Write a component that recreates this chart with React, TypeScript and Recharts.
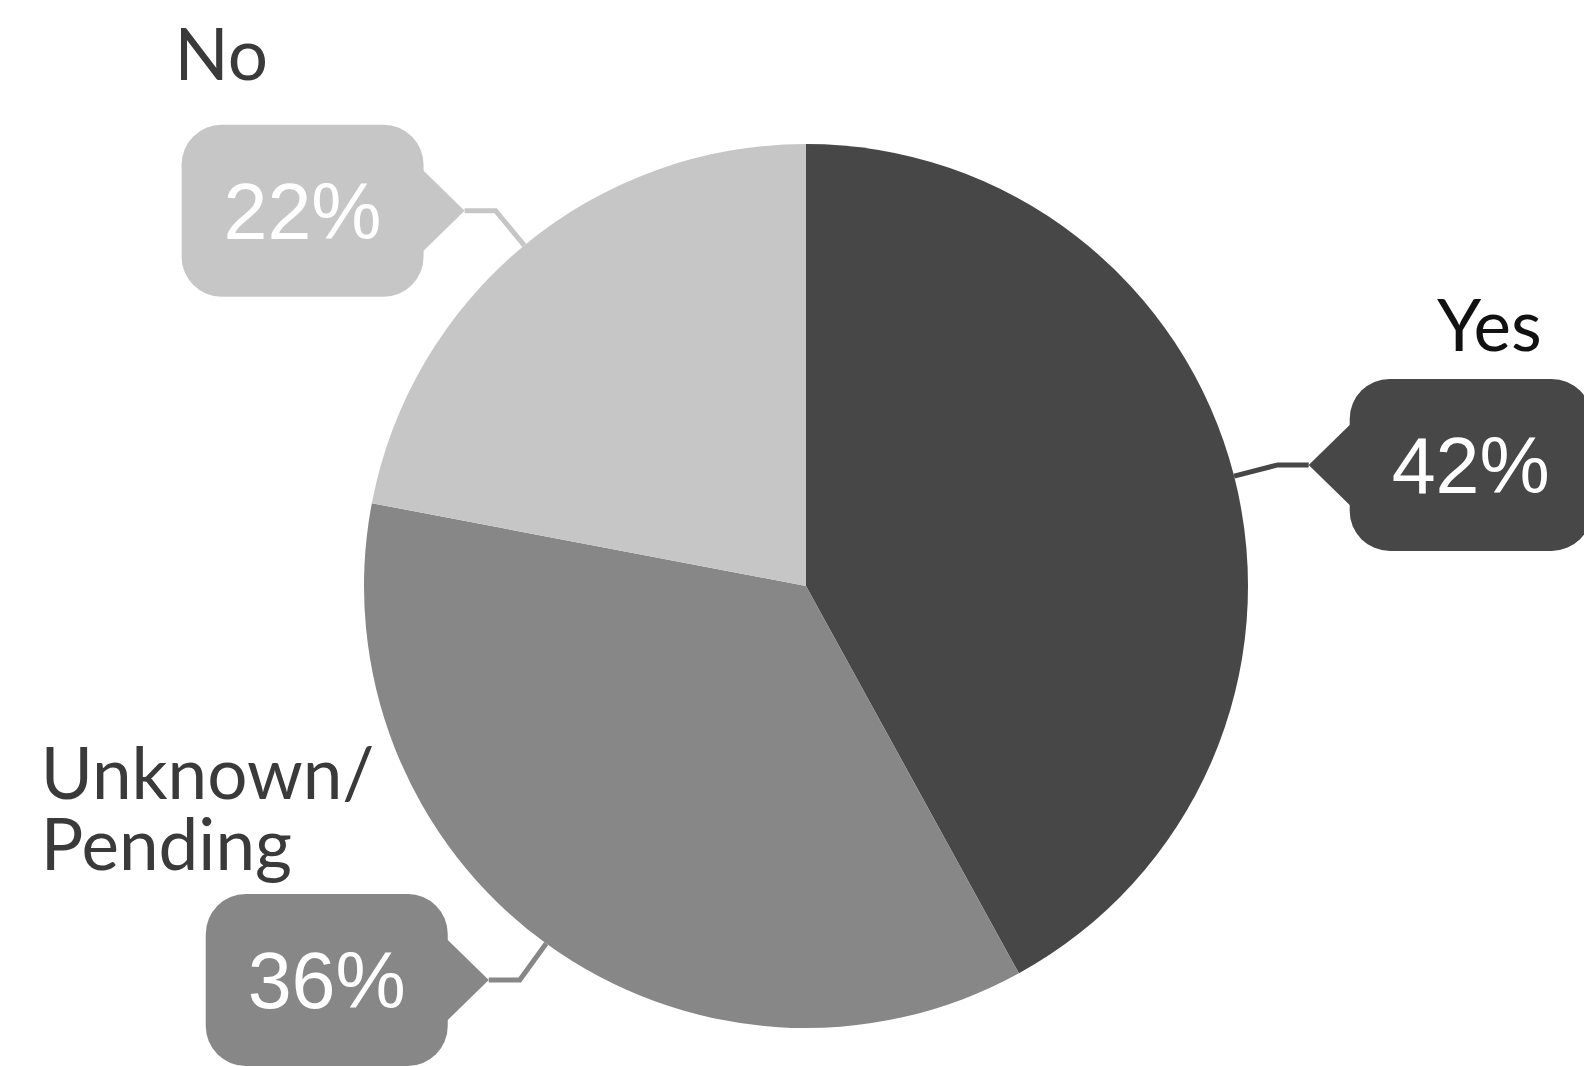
import React from 'react';
import { PieChart, Pie, Cell } from 'recharts';

const categories = ['Yes', 'Unknown/Pending', 'No'];
const shares = [42, 36, 22];
const colors = ['#474747', '#878787', '#c6c6c6'];
const nameLines: Record<string, string[]> = {
  Yes: ['Yes'],
  'Unknown/Pending': ['Unknown/', 'Pending'],
  No: ['No'],
};

const data = categories.map((name, i) => ({ name, value: shares[i] }));

// where the category name sits relative to its callout box
const namePlacement: Record<string, { dx: number; dy: number; anchor: 'start' | 'end'; color: string }> = {
  Yes: { dx: 192, dy: -28, anchor: 'end', color: '#111111' },
  'Unknown/Pending': { dx: -165, dy: -24, anchor: 'start', color: '#3a3a3a' },
  No: { dx: -7, dy: -45, anchor: 'start', color: '#3a3a3a' },
};

const RADIAN = Math.PI / 180;
const BOX_W = 242;
const BOX_H = 172;
const POINTER = 41;

const renderCallout = (props: any) => {
  const { cx, cy, midAngle, outerRadius, index, name, value } = props;
  const fill = colors[index];
  const cos = Math.cos(-midAngle * RADIAN);
  const sin = Math.sin(-midAngle * RADIAN);
  const sx = cx + outerRadius * cos;
  const sy = cy + outerRadius * sin;
  const mx = cx + (outerRadius + 45) * cos;
  const my = cy + (outerRadius + 45) * sin;
  const right = cos >= 0;
  const tx = mx + (right ? 31 : -31);
  const ty = my;
  const boxLeft = right ? tx + POINTER : tx - POINTER - BOX_W;
  const boxTop = ty - BOX_H / 2;
  const baseX = right ? boxLeft + 1 : boxLeft + BOX_W - 1;
  const place = namePlacement[name];
  const lines = nameLines[name];

  return (
    <g>
      <polyline points={`${sx},${sy} ${mx},${my} ${tx},${ty}`} fill="none" stroke={fill} strokeWidth={5} />
      <rect x={boxLeft} y={boxTop} width={BOX_W} height={BOX_H} rx={40} ry={40} fill={fill} />
      <polygon points={`${baseX},${ty - POINTER} ${tx},${ty} ${baseX},${ty + POINTER}`} fill={fill} />
      <text
        x={boxLeft + BOX_W / 2}
        y={ty + 28}
        textAnchor="middle"
        fill="#ffffff"
        fontFamily="'Liberation Sans', Arial, sans-serif"
        fontSize={79}
      >
        {`${value}%`}
      </text>
      {lines.map((line, i) => (
        <text
          key={line}
          x={boxLeft + place.dx}
          y={boxTop + place.dy - (lines.length - 1 - i) * 71}
          textAnchor={place.anchor}
          fill={place.color}
          fontFamily="Lato, sans-serif"
          fontSize={71}
        >
          {line}
        </text>
      ))}
    </g>
  );
};

export default function App() {
  return (
    <div style={{ position: 'absolute', left: 0, top: 0, width: 1584, height: 1066, background: '#fff' }}>
      <PieChart width={1584} height={1066} margin={{ top: 0, right: 0, bottom: 0, left: 0 }}>
        <Pie
          data={data}
          dataKey="value"
          nameKey="name"
          cx={806}
          cy={586}
          outerRadius={442}
          startAngle={90}
          endAngle={-270}
          stroke="none"
          label={renderCallout}
          labelLine={false}
          isAnimationActive={false}
        >
          {data.map((d, i) => (
            <Cell key={d.name} fill={colors[i]} />
          ))}
        </Pie>
      </PieChart>
    </div>
  );
}
